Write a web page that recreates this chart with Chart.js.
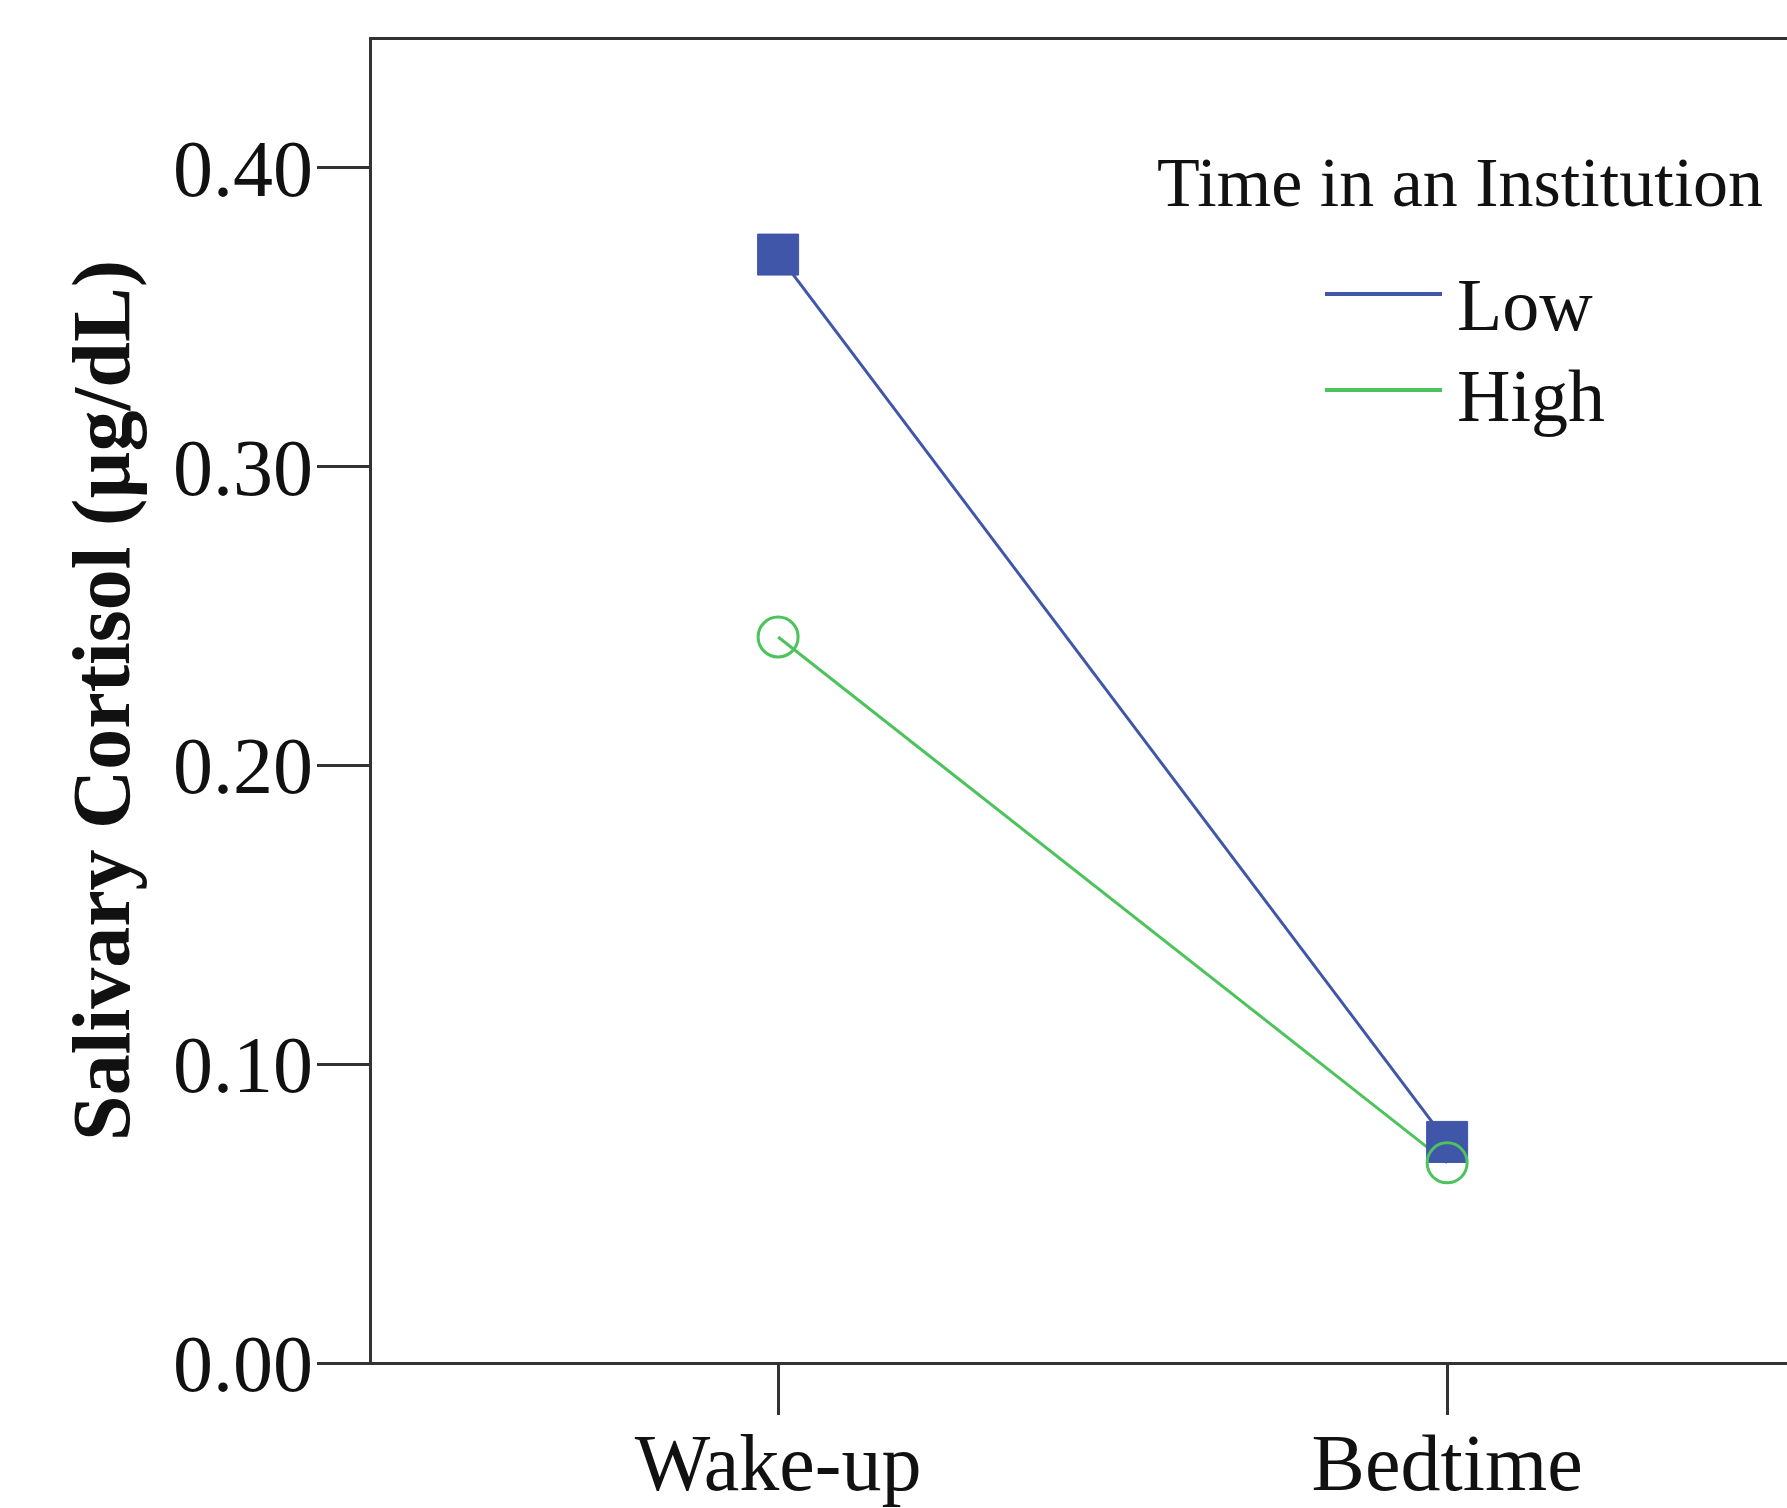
<!DOCTYPE html>
<html>
<head>
<meta charset="utf-8">
<script src="https://cdn.jsdelivr.net/npm/chart.js@4.4.1/dist/chart.umd.min.js"></script>
<style>
  html, body { margin: 0; padding: 0; background: #fff; }
  #wrap { width: 1787px; height: 1508px; position: relative; }
</style>
</head>
<body>
<div id="wrap"><canvas id="chart"></canvas></div>
<script>
// data
const categories = ['Wake-up', 'Bedtime'];
const seriesNames = ['Low', 'High'];
const lowValues = [0.371, 0.074];
const highValues = [0.243, 0.067];
const yTicks = [0, 0.1, 0.2, 0.3, 0.4];
const legendTitle = 'Time in an Institution';
const yTitle = 'Salivary Cortisol (\u00b5g/dL)';

const BLUE = '#3f56a9';
const GREEN = '#4cc35b';
const AXIS = '#333';
const SERIF = '"Liberation Serif", "Times New Roman", serif';

const toXY = arr => arr.map((v, i) => ({ x: i, y: v }));

// legend sits in the upper right of the plot, SPSS style
const cornerLegend = {
  id: 'cornerLegend',
  afterDraw(chart){
    const ctx = chart.ctx;
    const sets = [chart.data.datasets[1], chart.data.datasets[0]]; // Low, High line sets
    ctx.save();
    ctx.fillStyle = '#111';
    ctx.textBaseline = 'alphabetic';
    ctx.font = `70px ${SERIF}`;
    ctx.fillText(legendTitle, 1157, 206);
    const rows = [{ y: 294, base: 330 }, { y: 390, base: 421 }];
    ctx.font = `74px ${SERIF}`;
    sets.forEach((ds, i) => {
      ctx.strokeStyle = ds.borderColor;
      ctx.lineWidth = 4;
      ctx.beginPath();
      ctx.moveTo(1325, rows[i].y);
      ctx.lineTo(1442, rows[i].y);
      ctx.stroke();
      ctx.fillText(seriesNames[i], 1457, rows[i].base);
    });
    ctx.restore();
  }
};

const xMin = -0.61, xMax = 1.508;

new Chart(document.getElementById('chart'), {
  type: 'line',
  data: {
    datasets: [
      // green line underneath everything
      { label: seriesNames[1], data: toXY(highValues), borderColor: GREEN, borderWidth: 3,
        pointRadius: 0, order: 3 },
      { label: seriesNames[0], data: toXY(lowValues), borderColor: BLUE, borderWidth: 3,
        pointStyle: 'rect', pointRadius: 29, pointBackgroundColor: BLUE, pointBorderColor: BLUE,
        pointBorderWidth: 1, order: 2 },
      // open circles drawn on top
      { label: seriesNames[1] + ' points', data: toXY(highValues), showLine: false,
        pointStyle: 'circle', pointRadius: 20, pointBackgroundColor: 'rgba(0,0,0,0)',
        pointBorderColor: GREEN, pointBorderWidth: 3, order: 1 }
    ]
  },
  options: {
    responsive: true,
    maintainAspectRatio: false,
    animation: false,
    events: [],
    layout: { padding: 0, autoPadding: false },
    plugins: { legend: { display: false }, tooltip: { enabled: false } },
    scales: {
      x: {
        type: 'linear', position: 'bottom', min: xMin, max: xMax,
        afterBuildTicks: s => { s.ticks = categories.map((_, i) => ({ value: i })); },
        afterFit: s => { s.height = 145; s.paddingLeft = 0; s.paddingRight = 0; },
        ticks: { callback: v => categories[v], color: '#111', font: { family: SERIF, size: 80 },
                 padding: 6, maxRotation: 0, autoSkip: false },
        grid: { display: true, drawOnChartArea: false, drawTicks: true, tickLength: 52,
                color: AXIS, lineWidth: 3 },
        border: { display: true, color: AXIS, width: 3 }
      },
      xTop: {
        type: 'linear', position: 'top', min: xMin, max: xMax,
        afterFit: s => { s.height = 38; s.paddingLeft = 0; s.paddingRight = 0; },
        ticks: { display: false },
        grid: { display: false },
        border: { display: true, color: AXIS, width: 3 }
      },
      y: {
        type: 'linear', min: 0, max: 0.4435,
        afterBuildTicks: s => { s.ticks = yTicks.map(v => ({ value: v })); },
        afterFit: s => { s.width = 370; s.paddingTop = 0; s.paddingBottom = 0; },
        ticks: { callback: v => Number(v).toFixed(2), color: '#111',
                 font: { family: SERIF, size: 80 }, padding: 4, labelOffset: 7 },
        grid: { display: true, drawOnChartArea: false, drawTicks: true, tickLength: 53,
                color: AXIS, lineWidth: 3 },
        border: { display: true, color: AXIS, width: 3 },
        title: { display: true, text: yTitle, color: '#111',
                 font: { family: SERIF, size: 82, weight: 'bold' },
                 padding: { top: 59, bottom: 0 } }
      }
    }
  },
  plugins: [cornerLegend]
});
</script>
</body>
</html>
